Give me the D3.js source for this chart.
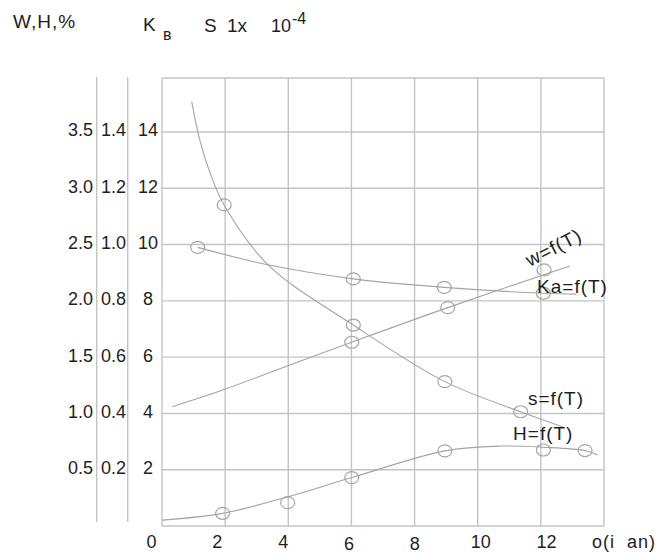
<!DOCTYPE html>
<html>
<head>
<meta charset="utf-8">
<script src="https://cdn.jsdelivr.net/npm/d3@7"></script>
<style>
  body { margin: 0; background: #fff; }
  svg text { font-family: "Liberation Sans", Arial, sans-serif; fill: #1e1e1e; }
</style>
</head>
<body>
<svg id="chart" width="657" height="554"></svg>
<script>
// tick values
var xTicks = [0, 2, 4, 6, 8, 10, 12];
var gridX = [0, 2, 4, 6, 8, 10, 12, 14];
var gridY = [0, 2, 4, 6, 8, 10, 12, 14];
var whTicks = [0.5, 1.0, 1.5, 2.0, 2.5, 3.0, 3.5];
var kTicks = [0.2, 0.4, 0.6, 0.8, 1.0, 1.2, 1.4];
var sTicks = [2, 4, 6, 8, 10, 12, 14];

// curves: [T, value on the 0..14 scale]
var sLine = [[0.94, 15.08], [1.2, 13.7], [1.52, 12.55], [1.97, 11.4], [3.36, 9.28],
  [6.06, 7.14], [8.96, 5.13], [11.36, 4.06], [12.7, 3.52]];
var kaLine = [[1.13, 9.9], [3.36, 9.28], [6.06, 8.78], [8.94, 8.48], [12.08, 8.27], [13.13, 8.24]];
var wLine = [[0.33, 4.24], [1.92, 4.83], [4.05, 5.72], [6.01, 6.53], [9.05, 7.76], [12.92, 9.24]];
var hLine = [[0, 0.21], [1.92, 0.45], [4.0, 1.04], [6.01, 1.72], [8.96, 2.67], [10.7, 2.84],
  [12.08, 2.8], [13.4, 2.68], [13.8, 2.52]];

// measured points (circles)
var sPts = [[1.97, 11.41], [6.06, 7.14], [8.96, 5.13], [11.36, 4.06]];
var kaPts = [[1.13, 9.9], [6.06, 8.78], [8.94, 8.48], [12.08, 8.27]];
var wPts = [[6.01, 6.53], [9.05, 7.76], [12.1, 9.1]];
var hPts = [[1.92, 0.45], [3.98, 0.83], [6.01, 1.72], [8.96, 2.67], [12.08, 2.7], [13.4, 2.68]];

var svg = d3.select("#chart");
var gridColor = "#c4c4c4", lineColor = "#a4a4a4";
var plotTop = 78, plotBottom = 526;

var x = d3.scaleLinear().domain([0, 14]).range([162, 604]);
var y = d3.scaleLinear().domain([0, 14]).range([plotBottom, 132]);
// tick labels sit a bit off the grid in the original
var xLab = d3.scaleLinear().domain([0, 12]).range([151, 546]);
var yWH = d3.scaleLinear().domain([0, 3.5]).range([plotBottom, 132]);
var yK = d3.scaleLinear().domain([0, 1.4]).range([plotBottom, 132]);

svg.append("rect").attr("width", 657).attr("height", 554).attr("fill", "#fff");

// grid
var grid = svg.append("g").attr("stroke", gridColor).attr("stroke-width", 1.4);
grid.selectAll(".vx").data(gridX).enter().append("line")
  .attr("x1", function (d) { return x(d); }).attr("x2", function (d) { return x(d); })
  .attr("y1", plotTop).attr("y2", plotBottom);
grid.selectAll(".hy").data(gridY).enter().append("line")
  .attr("x1", x(0)).attr("x2", x(14))
  .attr("y1", function (d) { return y(d); }).attr("y2", function (d) { return y(d); });
grid.append("line").attr("x1", x(0)).attr("x2", x(14)).attr("y1", plotTop).attr("y2", plotTop);
// extra vertical axis lines for the two left scales
[96.7, 127.7].forEach(function (px) {
  grid.append("line").attr("x1", px).attr("x2", px).attr("y1", 77).attr("y2", 522);
});

// left axes (three columns of labels)
function styleAxis(g) {
  g.select(".domain").remove();
  g.selectAll("text").style("font-size", "18px").attr("dy", "0.22em")
    .attr("fill", "#1e1e1e").style("font-family", '"Liberation Sans", Arial, sans-serif');
}
svg.append("g").attr("transform", "translate(96,0)")
  .call(d3.axisLeft(yWH).tickValues(whTicks).tickSize(0).tickPadding(3).tickFormat(d3.format(".1f")))
  .call(styleAxis);
svg.append("g").attr("transform", "translate(128,0)")
  .call(d3.axisLeft(yK).tickValues(kTicks).tickSize(0).tickPadding(2).tickFormat(d3.format(".1f")))
  .call(styleAxis);
svg.append("g").attr("transform", "translate(148,0)")
  .call(d3.axisLeft(y).tickValues(sTicks).tickSize(0).tickPadding(0).tickFormat(d3.format("d")))
  .call(styleAxis)
  .selectAll("text").attr("text-anchor", "middle").attr("x", 0);

// bottom axis
var xg = svg.append("g").attr("transform", "translate(0," + plotBottom + ")")
  .call(d3.axisBottom(xLab).tickValues(xTicks).tickSize(0).tickFormat(d3.format("d")));
xg.select(".domain").remove();
xg.selectAll("text").style("font-size", "18px").attr("dy", 0)
  .attr("y", function (d) { return (d === 6 || d === 8) ? 24 : 22; })
  .attr("fill", "#1e1e1e").style("font-family", '"Liberation Sans", Arial, sans-serif');
svg.append("text").attr("x", 592).attr("y", 548).style("font-size", "18px")
  .style("letter-spacing", "1px").style("white-space", "pre").text("o(i  an)");

// curves
var line = d3.line()
  .x(function (d) { return x(d[0]); })
  .y(function (d) { return y(d[1]); })
  .curve(d3.curveCatmullRom);
[sLine, kaLine, wLine, hLine].forEach(function (c) {
  svg.append("path").datum(c).attr("d", line)
    .attr("fill", "none").attr("stroke", lineColor).attr("stroke-width", 1.1);
});

// circles
svg.append("g").selectAll("ellipse")
  .data(sPts.concat(kaPts, wPts, hPts)).enter().append("ellipse")
  .attr("cx", function (d) { return x(d[0]); })
  .attr("cy", function (d) { return y(d[1]); })
  .attr("rx", 7).attr("ry", 6)
  .attr("fill", "none").attr("stroke", lineColor).attr("stroke-width", 1.2);

// curve labels
var lab = svg.append("g").style("font-size", "19px").style("letter-spacing", "1px");
lab.append("text").attr("text-anchor", "middle")
  .attr("transform", "translate(" + x(12.5) + "," + (y(9.9) + 6) + ") rotate(-27)")
  .text("w=f(T)");
lab.append("text").attr("x", x(11.88)).attr("y", y(8.28)).text("Ka=f(T)");
lab.append("text").attr("x", x(11.59)).attr("y", y(4.3)).text("s=f(T)");
lab.append("text").attr("x", x(11.12)).attr("y", y(3.06)).text("H=f(T)");

// header labels
var head = svg.append("g").style("font-size", "19px");
head.append("text").attr("x", 13).attr("y", 28).style("letter-spacing", "1px").text("W,H,%");
head.append("text").attr("x", 143).attr("y", 31).text("K");
head.append("text").attr("x", 163).attr("y", 40).style("font-size", "16px").text("в");
head.append("text").attr("x", 204).attr("y", 32).text("S");
head.append("text").attr("x", 227).attr("y", 32).text("1x");
head.append("text").attr("x", 271).attr("y", 32).style("font-size", "18px").text("10");
head.append("text").attr("x", 292).attr("y", 24).style("font-size", "16px").text("-4");
</script>
</body>
</html>
